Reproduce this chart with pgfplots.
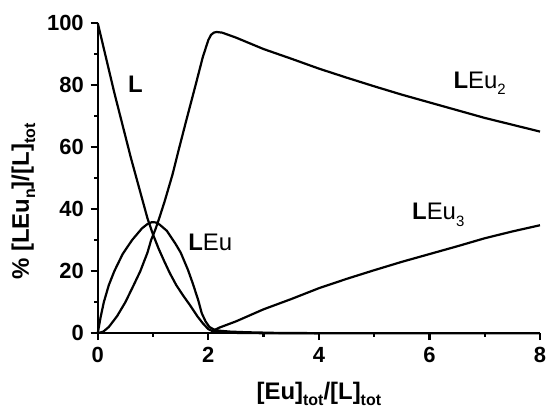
\documentclass[border=0pt]{standalone}
\usepackage{pgfplots}
\pgfplotsset{compat=1.18}
\usepackage{fontspec}
\setmainfont{Liberation Sans}
\newcommand{\sub}[1]{\raisebox{-0.5ex}{\fontsize{8}{9}\selectfont #1}}
\newcommand{\asub}[1]{\raisebox{-0.5ex}{\fontsize{7.5}{8}\selectfont #1}}
\begin{document}
\begin{tikzpicture}
\begin{axis}[
  scale only axis, width=221bp, height=155bp,
  xmin=0, xmax=8, ymin=0, ymax=100,
  axis x line*=bottom, axis y line*=left,
  axis line style={-, line width=1.2bp},
  xtick={0,2,4,6,8}, ytick={0,20,40,60,80,100},
  minor x tick num=1, minor y tick num=1,
  tick align=outside,
  major tick length=3.5bp, minor tick length=1.75bp,
  tick style={line width=1.1bp, black},
  /pgf/number format/assume math mode=true,
  ticklabel style={font=\bfseries\fontsize{11}{13}\selectfont},
  xlabel={[Eu]\sub{tot}/[L]\sub{tot}},
  ylabel={\% [LEu\sub{n}]/[L]\sub{tot}},
  label style={font=\bfseries\fontsize{12}{14}\selectfont},
  xlabel style={at={(axis description cs:0.5,-0.195)}, anchor=center},
  ylabel style={at={(axis description cs:-0.168,0.424)}, anchor=center},
  clip=false,
]
% L
\addplot[black, line width=1.1bp] coordinates {
(0,100) (0.1,92.5) (0.2,85) (0.3,77.5) (0.4,70.5) (0.5,63.5) (0.6,56.5) (0.7,50)
(0.8,43.5) (0.9,37) (1.0,31.8) (1.1,27.3) (1.2,23.3) (1.3,19.5) (1.42,15.5)
(1.55,12) (1.67,9) (1.8,5.5) (1.9,3.2) (2.0,1.3) (2.1,0.5) (2.3,0.2) (2.6,0.05) (3,0) (8,0)
};
% LEu
\addplot[black, line width=1.1bp] coordinates {
(0,0) (0.05,5) (0.11,10) (0.2,15.5) (0.3,20) (0.45,25.5) (0.62,30) (0.8,33.8)
(0.9,35.2) (0.98,35.8) (1.05,35.7) (1.12,35) (1.25,33) (1.4,29) (1.5,26) (1.63,20.5)
(1.72,16) (1.82,10.5) (1.88,6.5) (1.95,3.8) (2.02,2) (2.1,1.2) (2.2,0.8) (2.4,0.5)
(2.7,0.3) (3.2,0.1) (4,0)
};
% LEu2
\addplot[black, line width=1.1bp] coordinates {
(0,0) (0.1,0.5) (0.2,2) (0.35,5.5) (0.5,10) (0.65,15.5) (0.77,20) (0.9,26) (0.965,30)
(1.05,33.8) (1.12,37.5) (1.21,42.5) (1.35,51) (1.47,59.5) (1.6,68.5) (1.77,80)
(1.9,89) (2.0,94.5) (2.05,96.2) (2.1,96.9) (2.15,97.1) (2.25,96.9) (2.5,95.3)
(3,91.6) (3.5,88.5) (4,85.3) (4.5,82.4) (5,79.6) (5.5,76.9) (6,74.4) (6.5,71.9)
(7,69.4) (7.5,67.2) (8,65)
};
% LEu3
\addplot[black, line width=1.1bp] coordinates {
(2.05,0.6) (2.1,0.9) (2.2,1.8) (2.5,3.8) (3,7.7) (3.5,11) (4,14.5) (4.5,17.5)
(5,20.3) (5.5,23) (6,25.5) (6.5,28) (7,30.6) (7.5,32.8) (8,34.8)
};
\node[anchor=base west, inner sep=0, font=\bfseries\fontsize{12}{14}\selectfont] at (axis cs:0.54,77.6) {L};
\node[anchor=base west, inner sep=0, font=\fontsize{12}{14}\selectfont] at (axis cs:1.63,26.5) {\textbf{L}Eu};
\node[anchor=base west, inner sep=0, font=\fontsize{12}{14}\selectfont] at (axis cs:6.43,78.9) {\textbf{L}Eu\asub{2}};
\node[anchor=base west, inner sep=0, font=\fontsize{12}{14}\selectfont] at (axis cs:5.68,36.5) {\textbf{L}Eu\asub{3}};
\end{axis}
\pgfresetboundingbox
\path ([xshift=-48.85bp,yshift=-39.5bp]current axis.south west) rectangle ([xshift=3.5bp,yshift=11.5bp]current axis.north east);
\end{tikzpicture}
\end{document}
